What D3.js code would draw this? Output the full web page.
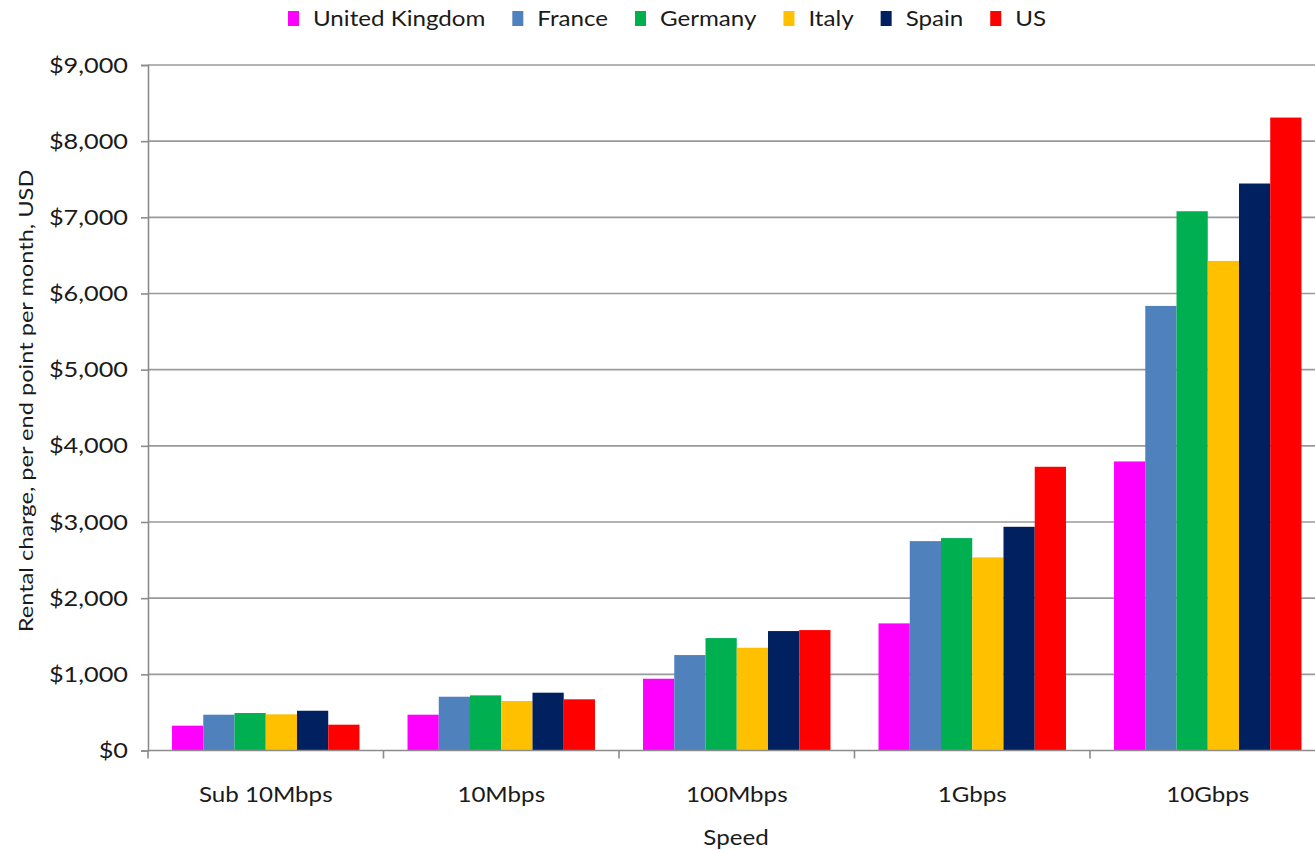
<!DOCTYPE html>
<html>
<head>
<meta charset="utf-8">
<script src="https://cdn.jsdelivr.net/npm/d3@7"></script>
<style>
  html, body { margin: 0; padding: 0; background: #fff; }
  svg { display: block; }
  text { font-family: Lato, "Open Sans", sans-serif; fill: #1a1a1a; }
</style>
</head>
<body>
<svg id="chart" width="1315" height="850"></svg>
<script>
// Monthly rental charge per end point (USD) by link speed
const categories = ["Sub 10Mbps", "10Mbps", "100Mbps", "1Gbps", "10Gbps"];
const seriesNames = ["United Kingdom", "France", "Germany", "Italy", "Spain", "US"];
const seriesColors = ["#ff00ff", "#4f81bd", "#00b050", "#ffc000", "#002060", "#ff0000"];

const ukValues      = [326, 470, 942, 1669, 3795];
const franceValues  = [470, 706, 1253, 2749, 5837];
const germanyValues = [492, 724, 1476, 2789, 7080];
const italyValues   = [475, 650, 1349, 2535, 6428];
const spainValues   = [522, 759, 1568, 2937, 7444];
const usValues      = [339, 672, 1581, 3725, 8310];

const yTicks = [0, 1000, 2000, 3000, 4000, 5000, 6000, 7000, 8000, 9000];
const yTitle = "Rental charge, per end point per month, USD";
const xTitle = "Speed";

const seriesValues = [ukValues, franceValues, germanyValues, italyValues, spainValues, usValues];
const rows = categories.map((c, i) => ({
  category: c,
  values: seriesNames.map((s, j) => ({ series: s, value: seriesValues[j][i], color: seriesColors[j] }))
}));

const svg = d3.select("#chart");
const plot = { left: 148, right: 1325.5, top: 65, bottom: 750.5 };
const textStretch = 1.15; // wider letterforms, stretched horizontally about each anchor

function stretch(sel) {
  sel.each(function () {
    const ax = +this.getAttribute("x") || 0;
    d3.select(this).attr("transform",
      `translate(${ax},0) scale(${textStretch},1) translate(${-ax},0)`);
  });
}

const x0 = d3.scaleBand().domain(categories).range([plot.left, plot.right])
  .paddingInner(0.204).paddingOuter(0.102);
const x1 = d3.scaleBand().domain(seriesNames).range([0, x0.bandwidth()]);
const y = d3.scaleLinear().domain([0, 9000]).range([plot.bottom, plot.top]);

// horizontal gridlines
svg.append("g").selectAll("line").data(yTicks.filter(t => t > 0)).join("line")
  .attr("x1", plot.left).attr("x2", plot.right)
  .attr("y1", d => y(d)).attr("y2", d => y(d))
  .attr("stroke", "#9a9a9a").attr("stroke-width", 1.6);

// bars
const groups = svg.append("g").selectAll("g").data(rows).join("g")
  .attr("transform", d => `translate(${x0(d.category)},0)`);
groups.selectAll("rect").data(d => d.values).join("rect")
  .attr("x", d => x1(d.series))
  .attr("width", x1.bandwidth())
  .attr("y", d => y(d.value))
  .attr("height", d => y(0) - y(d.value))
  .attr("fill", d => d.color);

// y axis
const yAxis = svg.append("g").attr("transform", `translate(${plot.left},0)`)
  .call(d3.axisLeft(y).tickValues(yTicks).tickSize(7).tickPadding(13)
    .tickFormat(d => "$" + d3.format(",")(d)));
yAxis.select(".domain").attr("stroke", "#8c8c8c").attr("stroke-width", 1.6);
yAxis.selectAll(".tick line").attr("stroke", "#8c8c8c").attr("stroke-width", 1.6);
yAxis.selectAll(".tick text").attr("font-size", 22).attr("fill", "#1a1a1a")
  .style("font-family", "Lato, sans-serif").call(stretch);

// x axis with category separators
const xAxisG = svg.append("g");
xAxisG.append("line").attr("x1", plot.left).attr("x2", plot.right)
  .attr("y1", plot.bottom).attr("y2", plot.bottom)
  .attr("stroke", "#8c8c8c").attr("stroke-width", 1.6);
const step = x0.step();
const seps = d3.range(categories.length + 1).map(i => plot.left + i * step);
xAxisG.selectAll("line.sep").data(seps).join("line").attr("class", "sep")
  .attr("x1", d => d).attr("x2", d => d)
  .attr("y1", plot.bottom).attr("y2", plot.bottom + 8)
  .attr("stroke", "#8c8c8c").attr("stroke-width", 1.6);
xAxisG.selectAll("text").data(categories).join("text")
  .attr("x", d => x0(d) + x0.bandwidth() / 2)
  .attr("y", 802)
  .attr("text-anchor", "middle")
  .attr("font-size", 21)
  .text(d => d)
  .call(stretch);

// axis titles
svg.append("text").attr("x", 736).attr("y", 845).attr("text-anchor", "middle")
  .attr("font-size", 21).text(xTitle).call(stretch);
svg.append("text").attr("transform", `translate(33,401) rotate(-90) scale(1.18,1)`)
  .attr("text-anchor", "middle").attr("font-size", 20).text(yTitle);

// legend
const legend = svg.append("g");
let lx = 288;
seriesNames.forEach((name, i) => {
  legend.append("rect").attr("x", lx).attr("y", 11).attr("width", 11).attr("height", 15)
    .attr("fill", seriesColors[i]);
  const t = legend.append("text").attr("x", lx + 25).attr("y", 26)
    .attr("font-size", 21).text(name).call(stretch);
  lx += 25 + t.node().getComputedTextLength() * textStretch + 27;
});
</script>
</body>
</html>
